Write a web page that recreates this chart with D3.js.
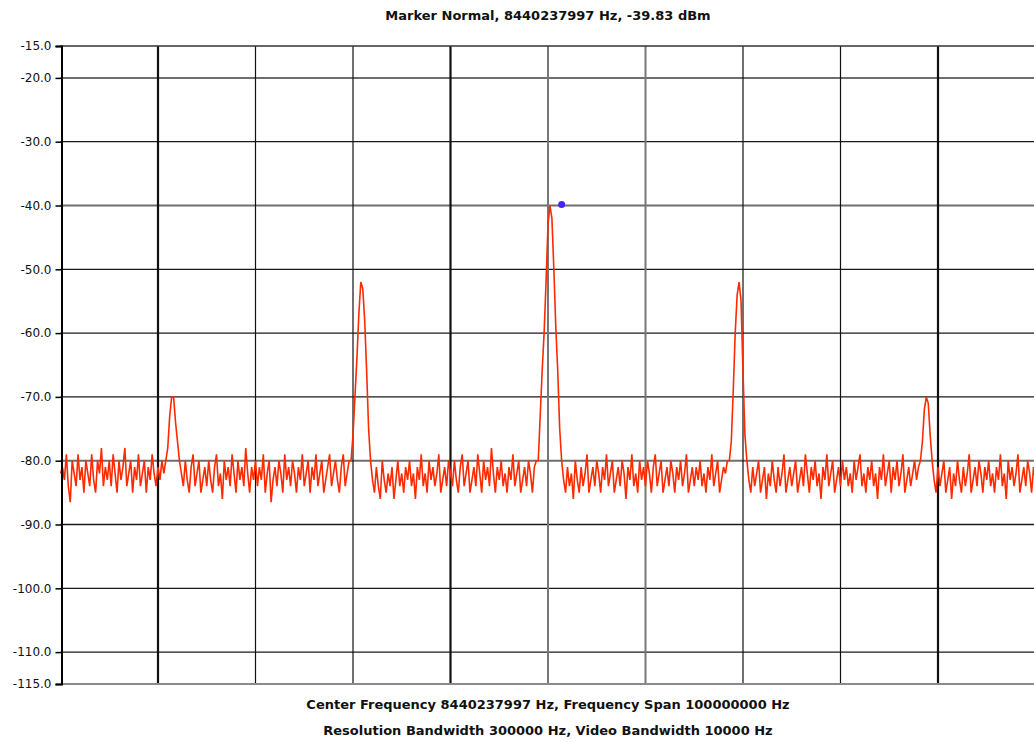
<!DOCTYPE html>
<html>
<head>
<meta charset="utf-8">
<script src="https://cdn.jsdelivr.net/npm/d3@7"></script>
<style>
  body { margin: 0; background: #fff; }
  svg { display: block; }
  text { font-family: "DejaVu Sans", sans-serif; fill: #111; }
</style>
</head>
<body>
<div id="chart"></div>
<script>
// Spectrum trace, dBm, one value every 0.2 MHz from -50 to +50 MHz around the centre
const traceDbm = [
  -82,-81,-83,-79,-84,-86.5,-80,-82,-84,-79,-83,-81,-85,-80,-82,-84,-79,-83,-85,-80,-82,-78,-84,-81,-83,
  -80,-84,-79,-82,-85,-80,-83,-81,-78,-84,-82,-80,-85,-81,-83,-79,-84,-82,-80,-85,-81,-83,-79,-82,-84,
  -81,-83,-80,-82,-80,-78,-73,-70,-70,-74,-77,-80,-82,-84,-80,-83,-85,-81,-79,-84,-82,-80,-85,-83,-81,
  -84,-80,-83,-85,-81,-79,-84,-82,-86,-80,-83,-81,-84,-79,-82,-85,-80,-83,-81,-84,-78,-82,-85,-81,-83,
  -80,-84,-81,-83,-79,-85,-82,-80,-86.5,-83,-81,-84,-80,-82,-85,-79,-83,-81,-84,-80,-82,-85,-81,-83,-79,
  -84,-82,-80,-85,-81,-83,-79,-84,-82,-80,-85,-83,-81,-79,-84,-82,-80,-83,-85,-81,-79,-84,-82,-80,-80,
  -76,-70,-64,-57,-52,-53,-58,-66,-75,-80,-83,-85,-81,-84,-86,-80,-83,-85,-82,-84,-81,-86,-83,-80,-84,
  -82,-85,-81,-83,-80,-84,-82,-86,-81,-83,-79,-84,-82,-85,-80,-83,-81,-84,-82,-79,-85,-83,-81,-84,-80,
  -82,-84,-80,-83,-85,-81,-79,-84,-82,-80,-85,-83,-81,-84,-79,-82,-85,-80,-83,-81,-84,-78,-82,-85,-81,
  -83,-80,-84,-82,-85,-81,-83,-79,-84,-82,-80,-85,-83,-81,-84,-80,-82,-85,-81,-80,-80,-73,-66,-60,-52,
  -43,-40,-42,-50,-59,-66,-75,-80,-83,-85,-81,-84,-82,-86,-80,-83,-85,-81,-84,-82,-79,-85,-83,-81,-84,
  -80,-82,-85,-81,-83,-79,-84,-82,-80,-85,-83,-81,-84,-80,-82,-86,-81,-83,-79,-84,-82,-85,-80,-83,-81,
  -84,-80,-82,-85,-81,-79,-84,-82,-80,-85,-83,-81,-84,-80,-82,-85,-81,-83,-80,-84,-82,-79,-85,-83,-81,
  -84,-81,-83,-80,-84,-82,-85,-81,-83,-79,-84,-82,-80,-85,-83,-81,-82,-80,-80,-77,-69,-60,-54,-52,-55,
  -66,-76,-80,-83,-85,-81,-84,-82,-80,-85,-83,-81,-86,-82,-84,-80,-83,-85,-81,-84,-82,-79,-85,-83,-81,
  -84,-82,-80,-85,-83,-81,-84,-79,-82,-85,-81,-83,-80,-84,-82,-86,-81,-83,-79,-84,-82,-80,-85,-83,-81,
  -84,-80,-83,-81,-84,-82,-85,-80,-83,-81,-79,-84,-82,-85,-81,-83,-80,-84,-82,-86,-81,-83,-79,-84,-82,
  -80,-85,-81,-83,-80,-84,-82,-79,-85,-83,-81,-84,-82,-80,-83,-81,-80,-77,-72,-70,-71,-76,-80,-83,-85,
  -81,-84,-82,-80,-85,-83,-81,-86,-82,-84,-80,-83,-85,-81,-84,-82,-79,-85,-83,-81,-84,-80,-82,-85,-81,
  -83,-80,-84,-82,-85,-81,-83,-79,-84,-82,-86,-80,-83,-81,-84,-82,-79,-85,-83,-81,-84,-80,-82,-85,-81,
  -83
];
const spanStartMHz = -50;
const stepMHz = 0.2;

// marker (offset from centre in MHz, level in dBm)
const markerOffsetMHz = [1.4];
const markerDbm = [-39.83];

const yTicks = [-15, -20, -30, -40, -50, -60, -70, -80, -90, -100, -110, -115];
const yGrid = [-20, -30, -40, -50, -60, -70, -80, -90, -100, -110];
const xGrid = [-40, -30, -20, -10, 0, 10, 20, 30, 40];

const titleText = "Marker Normal, 8440237997 Hz, -39.83 dBm";
const footer1 = "Center Frequency 8440237997 Hz, Frequency Span 100000000 Hz";
const footer2 = "Resolution Bandwidth 300000 Hz, Video Bandwidth 10000 Hz";

const width = 1034, height = 742;

const svg = d3.select("#chart")
    .append("svg")
    .attr("width", width)
    .attr("height", height);

const x = d3.scaleLinear().domain([-50, 50]).range([60.5, 1035.5]);
const y = d3.scaleLinear().domain([-115, -15]).range([684, 46]);

// grid lines
svg.append("g").selectAll("line")
    .data(yGrid)
    .enter().append("line")
    .attr("x1", x(-50)).attr("x2", x(50))
    .attr("y1", d => y(d)).attr("y2", d => y(d))
    .attr("stroke", d => (d === -20 || d === -40 || d === -80) ? "#6e6e6e" : "#1a1a1a")
    .attr("stroke-width", d => (d === -20 || d === -40 || d === -80) ? 2 : 1.3);

svg.append("g").selectAll("line")
    .data(xGrid)
    .enter().append("line")
    .attr("x1", d => x(d)).attr("x2", d => x(d))
    .attr("y1", y(-15)).attr("y2", y(-115))
    .attr("stroke", d => (d === 0 || d === 10) ? "#777" : "#111")
    .attr("stroke-width", d => (d === -40 || d === -10 || d === 40) ? 2.2 : (d === 0 || d === 10) ? 2 : 1.2);

// frame
svg.append("line")
    .attr("x1", x(-50)).attr("x2", x(50))
    .attr("y1", y(-15)).attr("y2", y(-15))
    .attr("stroke", "#333").attr("stroke-width", 1.5);
svg.append("line")
    .attr("x1", x(-50)).attr("x2", x(50))
    .attr("y1", y(-115)).attr("y2", y(-115))
    .attr("stroke", "#8a8a8a").attr("stroke-width", 2);

// trace
const line = d3.line()
    .x((d, i) => x(spanStartMHz + i * stepMHz))
    .y(d => y(d));

svg.append("path")
    .datum(traceDbm)
    .attr("fill", "none")
    .attr("stroke", "#ff2a00")
    .attr("stroke-width", 1.6)
    .attr("d", line);

// marker
svg.append("g").selectAll("circle")
    .data(markerOffsetMHz)
    .enter().append("circle")
    .attr("cx", d => x(d))
    .attr("cy", (d, i) => y(markerDbm[i]))
    .attr("r", 3.5)
    .attr("fill", "#4a22ff");

// left axis
const yAxis = d3.axisLeft(y)
    .tickValues(yTicks)
    .tickFormat(d => d.toFixed(1))
    .tickSize(6)
    .tickPadding(4);

const ax = svg.append("g")
    .attr("transform", `translate(${x(-50) + 1},0)`)
    .call(yAxis);
ax.select(".domain").attr("stroke", "#000").attr("stroke-width", 2);
ax.selectAll(".tick line").attr("stroke", "#000").attr("stroke-width", 1.5);
ax.selectAll(".tick text")
    .attr("font-family", "DejaVu Sans, sans-serif")
    .attr("font-size", 12)
    .attr("fill", "#111");

// texts
svg.append("text")
    .attr("x", 548).attr("y", 20)
    .attr("text-anchor", "middle")
    .attr("font-size", 13).attr("font-weight", "bold")
    .text(titleText);

svg.append("text")
    .attr("x", 548).attr("y", 709)
    .attr("text-anchor", "middle")
    .attr("font-size", 13).attr("font-weight", "bold")
    .text(footer1);

svg.append("text")
    .attr("x", 548).attr("y", 735)
    .attr("text-anchor", "middle")
    .attr("font-size", 13).attr("font-weight", "bold")
    .text(footer2);
</script>
</body>
</html>
